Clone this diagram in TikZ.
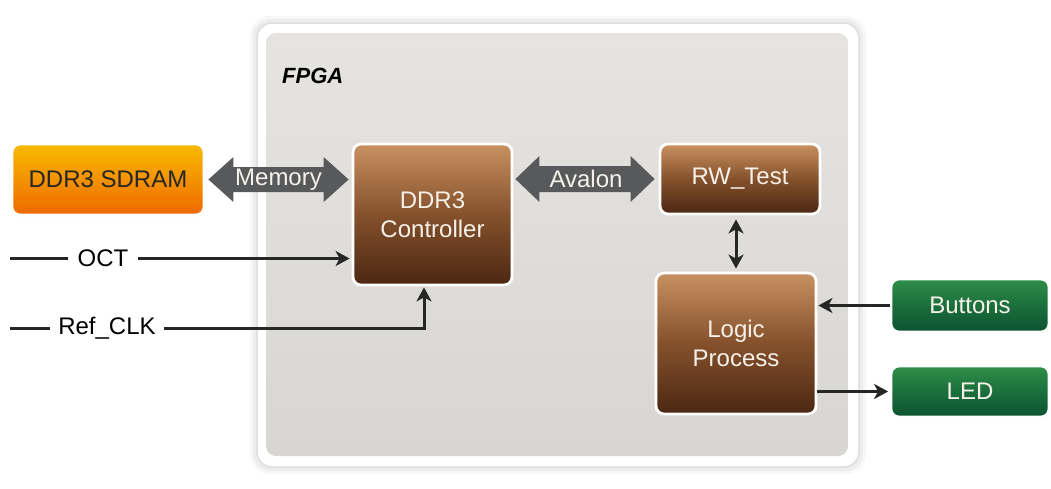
\documentclass[tikz,border=0pt]{standalone}
\usepackage{fontspec}
\setmainfont{Liberation Sans}
\usetikzlibrary{arrows.meta,shadows,calc}
\definecolor{brtop}{HTML}{C99160}
\definecolor{brmid}{HTML}{85512C}
\definecolor{brbot}{HTML}{4B2712}
\definecolor{ortop}{HTML}{F8BA00}
\definecolor{ormid}{HTML}{F49200}
\definecolor{orbot}{HTML}{EE6800}
\definecolor{grtop}{HTML}{2F8E48}
\definecolor{grmid}{HTML}{1B6F3C}
\definecolor{grbot}{HTML}{0C5230}
\definecolor{fatgray}{HTML}{58595B}
\definecolor{linecol}{HTML}{262626}
\definecolor{fpgatop}{HTML}{E6E4E1}
\definecolor{fpgabot}{HTML}{D8D6D3}
\definecolor{boxtext}{HTML}{F6F1EA}
\tikzset{
  blk/.style={rectangle, rounded corners=8pt, draw=white, line width=2.8pt,
    inner sep=0pt, align=center, font=\fontsize{24}{29.5}\selectfont,
    drop shadow={shadow xshift=0.8pt, shadow yshift=-1.2pt, opacity=0.3}},
  brownblk/.style={blk, top color=brtop, bottom color=brbot, middle color=brmid, text=boxtext},
  orangeblk/.style={blk, top color=ortop, bottom color=orbot, middle color=ormid, text=black!85},
  greenblk/.style={blk, top color=grtop, bottom color=grbot, middle color=grmid, text=boxtext},
  fattext/.style={font=\fontsize{24}{29}\selectfont, text=boxtext, inner sep=0pt},
  siglbl/.style={font=\fontsize{24}{29}\selectfont, text=black, inner xsep=9pt, inner ysep=0pt},
  sigline/.style={line width=3pt, draw=linecol},
  tipa/.tip={Stealth[length=14pt,width=15pt,inset=4pt]},
  sig/.style={sigline, -tipa},
  sigboth/.style={sigline, tipa-tipa},
}
\begin{document}
\begin{tikzpicture}[x=1pt,y=-1pt]
\useasboundingbox (0,0) rectangle (1051,488);
% FPGA container with halo
\fill[black, opacity=0.03, rounded corners=20pt] (250,16) rectangle (866,474);
\fill[black, opacity=0.04, rounded corners=18pt] (253,19) rectangle (863,471);
\fill[black, opacity=0.05, rounded corners=16pt] (256,22) rectangle (860,468);
\fill[white, rounded corners=14pt] (258,24) rectangle (858,466);
\shade[top color=fpgatop, bottom color=fpgabot, rounded corners=10pt] (266,33) rectangle (848,456);
\node[anchor=base west, inner sep=0pt, font=\fontsize{22}{26}\selectfont\bfseries\itshape] (fpga) at (282,83) {FPGA};

% blocks
\node[orangeblk, minimum width=192pt, minimum height=71pt] (sdram) at (108,179.5) {DDR3 SDRAM};
\node[brownblk, minimum width=159pt, minimum height=141pt] (ctrl) at (432.5,214.5) {DDR3\\Controller};
\node[brownblk, minimum width=160pt, minimum height=70pt] (rw) at (740,179) {RW\_Test};
\node[brownblk, minimum width=160pt, minimum height=141pt] (logic) at (736,343.5) {Logic\\Process};
\node[greenblk, minimum width=158pt, minimum height=53pt] (buttons) at (970,305.5) {Buttons};
\node[greenblk, minimum width=158pt, minimum height=51pt] (led) at (970,391.5) {LED};

% fat double arrows
\fill[fatgray] ($(sdram.east)+(3,0)$) -- ++(25,-22.5) -- ++(0,10)
  -- ($(ctrl.west |- sdram.east)+(-28,-12.5)$) -- ++(0,-10)
  -- ($(ctrl.west |- sdram.east)+(-3,0)$) -- ++(-25,22.5) -- ++(0,-10)
  -- ($(sdram.east)+(28,12.5)$) -- ++(0,10) -- cycle;
\node[fattext] (memlbl) at ($(sdram.east)!0.5!(ctrl.west |- sdram.east)$) {Memory};

\fill[fatgray] ($(ctrl.east |- rw.west)+(2,0)$) -- ++(24,-23) -- ++(0,10)
  -- ($(rw.west)+(-28,-13)$) -- ++(0,-10)
  -- ($(rw.west)+(-4,0)$) -- ++(-24,23) -- ++(0,-10)
  -- ($(ctrl.east |- rw.west)+(26,13)$) -- ++(0,10) -- cycle;
\node[fattext] (avlbl) at ($(ctrl.east |- rw.west)!0.5!(rw.west)$) {Avalon};

% OCT
\coordinate (octstart) at (10,258.5);
\node[siglbl] (oct) at (103,258.5) {OCT};
\draw[sigline] (octstart) -- (oct.west);
\draw[sig, shorten >=2pt] (oct.east) -- (ctrl.west |- oct.east);

% Ref_CLK
\coordinate (refstart) at (10,328);
\node[siglbl, inner xsep=8pt] (ref) at (107,328) {Ref\_CLK};
\draw[sigline] (refstart) -- (ref.west);
\draw[sig, shorten >=1pt] (ref.east) -| ($(ctrl.south)+(-8.5,0)$);

% RW_Test <-> Logic
\draw[sigboth, shorten <=4pt, shorten >=3pt] (logic.north |- rw.south) -- (logic.north);

% Buttons / LED
\draw[sig, shorten >=1pt] (buttons.west) -- (logic.east |- buttons.west);
\draw[sig, shorten >=1.5pt] (logic.east |- led.west) -- (led.west);
\end{tikzpicture}
\end{document}
